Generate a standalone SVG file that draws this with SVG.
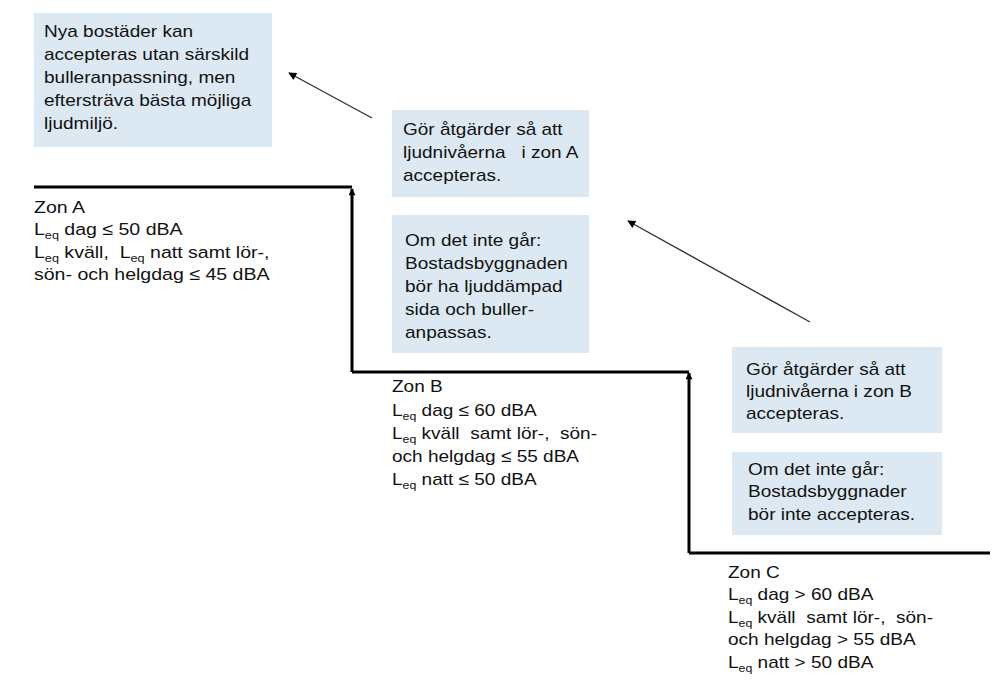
<svg xmlns="http://www.w3.org/2000/svg" width="1001" height="684" viewBox="0 0 1001 684">
<style>
.box{fill:#dde9f2;}
.t{font-family:"Liberation Sans",Arial,sans-serif;font-size:17px;fill:#111;}
.sub{font-size:11px;}
.step{fill:none;stroke:#000;stroke-width:3;}
.diag{stroke:#333;stroke-width:1.4;fill:none;}
</style>
<defs>
<marker id="ah" viewBox="0 0 10 10" refX="9" refY="5" markerWidth="10" markerHeight="8" markerUnits="userSpaceOnUse" orient="auto">
<path d="M0,0 L10,5 L0,10 z" fill="#000"/>
</marker>
<marker id="ahs" viewBox="0 0 10 10" refX="9" refY="5" markerWidth="9" markerHeight="7" markerUnits="userSpaceOnUse" orient="auto">
<path d="M0,0 L10,5 L0,10 z" fill="#000"/>
</marker>
</defs>
<rect width="1001" height="684" fill="#fff"/>

<g id="connectors">
<path class="step" d="M34,187 H352"/>
<path class="step" d="M352,372 V189" marker-end="url(#ahs)"/>
<path class="step" d="M352,372 H689"/>
<path class="step" d="M689,553 V373" marker-end="url(#ahs)"/>
<path class="step" d="M689,553 H990"/>
<line class="diag" x1="372" y1="118" x2="289" y2="73" marker-end="url(#ah)"/>
<line class="diag" x1="810" y1="322" x2="628" y2="221" marker-end="url(#ah)"/>
</g>

<g id="box1">
<rect class="box" x="34" y="13" width="238" height="134"/>
<text class="t" transform="translate(44,37) scale(1.12,1)">
<tspan x="0" y="0">Nya bostäder kan</tspan>
<tspan x="0" y="23">accepteras utan särskild</tspan>
<tspan x="0" y="46">bulleranpassning, men</tspan>
<tspan x="0" y="69">eftersträva bästa möjliga</tspan>
<tspan x="0" y="92">ljudmiljö.</tspan>
</text>
</g>

<g id="box2">
<rect class="box" x="392" y="110" width="197" height="87"/>
<text class="t" transform="translate(403,135) scale(1.12,1)">
<tspan x="0" y="0">Gör åtgärder så att</tspan>
<tspan x="0" y="23" xml:space="preserve">ljudnivåerna   i zon A</tspan>
<tspan x="0" y="46">accepteras.</tspan>
</text>
</g>

<g id="box3">
<rect class="box" x="392" y="215" width="197" height="138"/>
<text class="t" transform="translate(405,246) scale(1.12,1)">
<tspan x="0" y="0">Om det inte går:</tspan>
<tspan x="0" y="23">Bostadsbyggnaden</tspan>
<tspan x="0" y="46">bör ha ljuddämpad</tspan>
<tspan x="0" y="69">sida och buller-</tspan>
<tspan x="0" y="92">anpassas.</tspan>
</text>
</g>

<g id="box4">
<rect class="box" x="732" y="347" width="210" height="86"/>
<text class="t" transform="translate(746,375) scale(1.12,1)">
<tspan x="0" y="0">Gör åtgärder så att</tspan>
<tspan x="0" y="22">ljudnivåerna i zon B</tspan>
<tspan x="0" y="44">accepteras.</tspan>
</text>
</g>

<g id="box5">
<rect class="box" x="732" y="452" width="210" height="83"/>
<text class="t" transform="translate(748,475) scale(1.12,1)">
<tspan x="0" y="0">Om det inte går:</tspan>
<tspan x="0" y="22">Bostadsbyggnader</tspan>
<tspan x="0" y="45">bör inte accepteras.</tspan>
</text>
</g>

<g id="zonA">
<text class="t" transform="translate(34,213) scale(1.15,1)" xml:space="preserve"><tspan x="0" y="0">Zon A</tspan><tspan x="0" y="22">L</tspan><tspan class="sub" dy="4">eq</tspan><tspan dy="-4"> dag ≤ 50 dBA</tspan><tspan x="0" y="45">L</tspan><tspan class="sub" dy="4">eq</tspan><tspan dy="-4"> kväll,  L</tspan><tspan class="sub" dy="4">eq</tspan><tspan dy="-4"> natt samt lör-,</tspan><tspan x="0" y="67">sön- och helgdag ≤ 45 dBA</tspan></text>
</g>

<g id="zonB">
<text class="t" transform="translate(392,392) scale(1.12,1)" xml:space="preserve"><tspan x="0" y="0">Zon B</tspan><tspan x="0" y="24">L</tspan><tspan class="sub" dy="4">eq</tspan><tspan dy="-4"> dag ≤ 60 dBA</tspan><tspan x="0" y="47">L</tspan><tspan class="sub" dy="4">eq</tspan><tspan dy="-4"> kväll  samt lör-,  sön-</tspan><tspan x="0" y="70">och helgdag ≤ 55 dBA</tspan><tspan x="0" y="93">L</tspan><tspan class="sub" dy="4">eq</tspan><tspan dy="-4"> natt ≤ 50 dBA</tspan></text>
</g>

<g id="zonC">
<text class="t" transform="translate(728,578) scale(1.12,1)" xml:space="preserve"><tspan x="0" y="0">Zon C</tspan><tspan x="0" y="22">L</tspan><tspan class="sub" dy="4">eq</tspan><tspan dy="-4"> dag &gt; 60 dBA</tspan><tspan x="0" y="45">L</tspan><tspan class="sub" dy="4">eq</tspan><tspan dy="-4"> kväll  samt lör-,  sön-</tspan><tspan x="0" y="67">och helgdag &gt; 55 dBA</tspan><tspan x="0" y="90">L</tspan><tspan class="sub" dy="4">eq</tspan><tspan dy="-4"> natt &gt; 50 dBA</tspan></text>
</g>
</svg>
